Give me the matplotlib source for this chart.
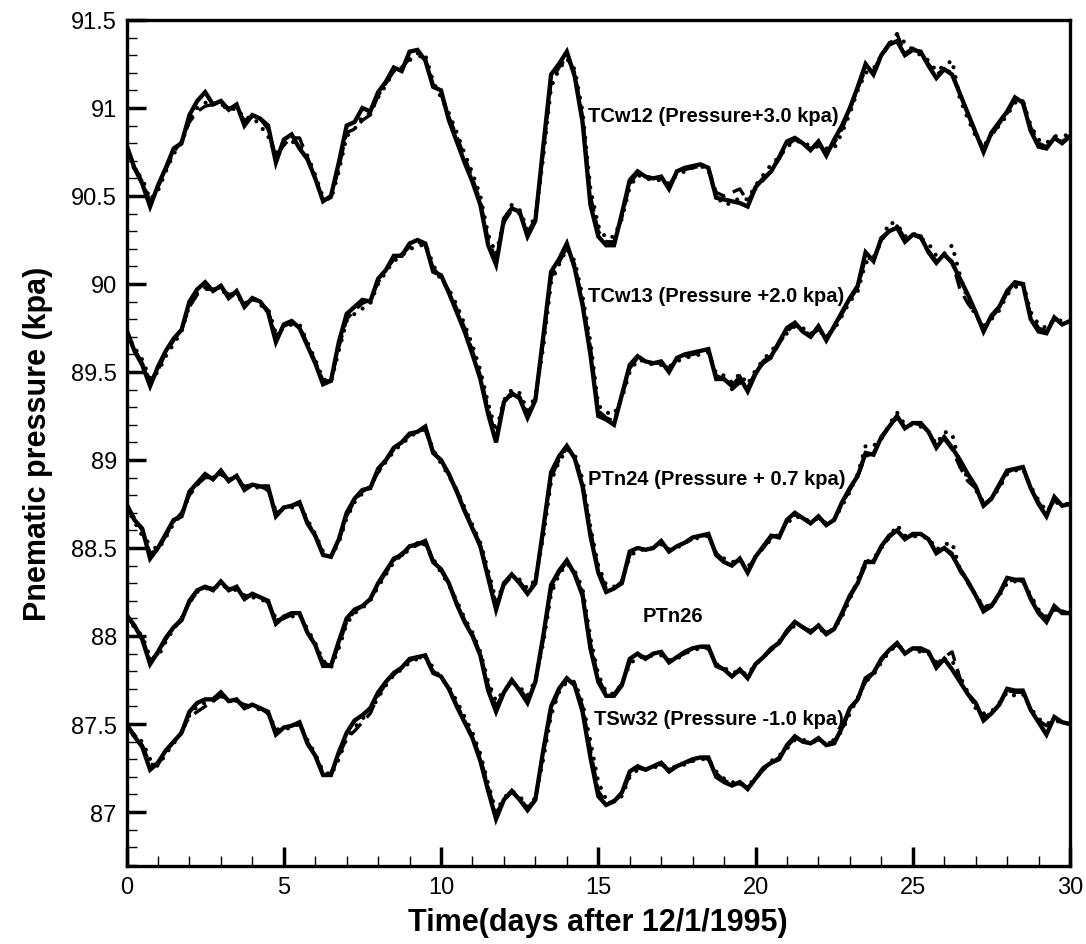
"""Pneumatic pressure at five borehole sensors, measured vs. two simulations,
December 1995 (30 days after 12/1/1995, 6-hour sampling)."""

import matplotlib

matplotlib.use("Agg")
matplotlib.rcParams.update({
    "font.family": ["Liberation Sans", "DejaVu Sans"],
    "font.size": 16,
})

import matplotlib.pyplot as plt
import numpy as np
from matplotlib.ticker import MultipleLocator, FormatStrFormatter

# time axis: 6-hour samples over 30 days
days = np.linspace(0, 30, 121)

# --- TCw12 (pressure + 3.0 kPa) ---------------------------------------------
tcw12_obs = [
    90.79, 90.66, 90.57, 90.44, 90.56, 90.66, 90.77, 90.80, 90.96, 91.04,
    91.09, 91.02, 91.04, 90.99, 91.02, 90.90, 90.96, 90.94, 90.90, 90.69,
    90.82, 90.85, 90.77, 90.71, 90.60, 90.47, 90.50, 90.69, 90.90, 90.92,
    91.00, 90.98, 91.09, 91.15, 91.23, 91.21, 91.32, 91.33, 91.27, 91.12,
    91.10, 90.93, 90.81, 90.69, 90.58, 90.45, 90.22, 90.11, 90.37, 90.43,
    90.41, 90.27, 90.36, 90.78, 91.19, 91.25, 91.32, 91.18, 90.92, 90.45,
    90.27, 90.22, 90.22, 90.40, 90.59, 90.64, 90.61, 90.60, 90.61, 90.54,
    90.64, 90.66, 90.67, 90.68, 90.66, 90.49, 90.48, 90.47, 90.46, 90.44,
    90.55, 90.60, 90.64, 90.72, 90.81, 90.83, 90.80, 90.76, 90.81, 90.73,
    90.82, 90.90, 91.00, 91.12, 91.25, 91.19, 91.30, 91.36, 91.38, 91.30,
    91.33, 91.32, 91.24, 91.17, 91.22, 91.19, 91.08, 90.97, 90.86, 90.75,
    90.86, 90.92, 90.98, 91.06, 91.03, 90.87, 90.78, 90.77, 90.83, 90.80,
    90.84]
tcw12_sim1 = [
    90.78, 90.67, 90.58, 90.47, 90.55, 90.65, 90.75, 90.81, 90.92, 90.98,
    91.01, 91.02, 91.02, 91.00, 90.99, 90.93, 90.95, 90.94, 90.88, 90.72,
    90.79, 90.83, 90.83, 90.72, 90.60, 90.48, 90.49, 90.66, 90.86, 90.88,
    90.93, 90.96, 91.07, 91.14, 91.21, 91.23, 91.28, 91.30, 91.28, 91.13,
    91.08, 90.95, 90.84, 90.72, 90.60, 90.47, 90.25, 90.14, 90.35, 90.42,
    90.40, 90.29, 90.37, 90.75, 91.15, 91.23, 91.29, 91.20, 90.95, 90.50,
    90.30, 90.24, 90.24, 90.38, 90.57, 90.63, 90.60, 90.60, 90.60, 90.56,
    90.63, 90.65, 90.66, 90.67, 90.66, 90.52, 90.50, 90.52, 90.54, 90.47,
    90.54, 90.59, 90.64, 90.71, 90.79, 90.82, 90.80, 90.77, 90.79, 90.75,
    90.80, 90.88, 90.99, 91.11, 91.22, 91.21, 91.30, 91.37, 91.42, 91.31,
    91.34, 91.31, 91.25, 91.19, 91.22, 91.20, 91.08, 90.97, 90.86, 90.77,
    90.84, 90.91, 90.97, 91.05, 91.04, 90.89, 90.80, 90.78, 90.82, 90.81,
    90.84]
tcw12_sim2 = [
    90.77, 90.65, 90.60, 90.48, 90.53, 90.64, 90.74, 90.80, 90.93, 91.00,
    91.03, 91.03, 91.02, 90.99, 91.00, 90.94, 90.95, 90.90, 90.84, 90.74,
    90.79, 90.81, 90.79, 90.73, 90.62, 90.49, 90.48, 90.64, 90.84, 90.88,
    90.95, 90.97, 91.06, 91.13, 91.21, 91.23, 91.27, 91.31, 91.30, 91.15,
    91.06, 90.97, 90.86, 90.74, 90.63, 90.50, 90.28, 90.17, 90.36, 90.45,
    90.42, 90.31, 90.38, 90.72, 91.12, 91.22, 91.28, 91.22, 90.98, 90.54,
    90.33, 90.26, 90.27, 90.37, 90.55, 90.62, 90.60, 90.59, 90.59, 90.57,
    90.62, 90.64, 90.66, 90.67, 90.65, 90.50, 90.45, 90.46, 90.49, 90.48,
    90.56, 90.62, 90.68, 90.72, 90.78, 90.81, 90.81, 90.78, 90.78, 90.77,
    90.77, 90.86, 90.97, 91.10, 91.20, 91.22, 91.30, 91.36, 91.42, 91.37,
    91.33, 91.30, 91.27, 91.21, 91.24, 91.27, 91.05, 90.94, 90.84, 90.78,
    90.85, 90.90, 90.96, 91.03, 91.04, 90.90, 90.82, 90.80, 90.84, 90.84,
    90.85]

# --- TCw13 (pressure + 2.0 kPa) ---------------------------------------------
tcw13_obs = [
    89.74, 89.62, 89.54, 89.42, 89.53, 89.62, 89.69, 89.74, 89.90, 89.97,
    90.01, 89.96, 89.99, 89.92, 89.96, 89.87, 89.92, 89.90, 89.84, 89.67,
    89.77, 89.79, 89.75, 89.65, 89.55, 89.43, 89.45, 89.67, 89.83, 89.87,
    89.91, 89.90, 90.03, 90.08, 90.16, 90.16, 90.23, 90.25, 90.23, 90.07,
    90.05, 89.95, 89.84, 89.73, 89.60, 89.46, 89.26, 89.10, 89.33, 89.38,
    89.35, 89.24, 89.34, 89.70, 90.07, 90.14, 90.23, 90.09, 89.88, 89.60,
    89.25, 89.23, 89.20, 89.37, 89.54, 89.59, 89.56, 89.55, 89.56, 89.50,
    89.58, 89.60, 89.61, 89.62, 89.63, 89.46, 89.46, 89.42, 89.47, 89.39,
    89.49, 89.56, 89.59, 89.67, 89.75, 89.78, 89.73, 89.70, 89.76, 89.68,
    89.76, 89.84, 89.92, 89.99, 90.18, 90.13, 90.26, 90.30, 90.32, 90.24,
    90.28, 90.27, 90.18, 90.12, 90.17, 90.12, 90.03, 89.94, 89.84, 89.73,
    89.82, 89.87, 89.96, 90.01, 90.00, 89.80, 89.73, 89.72, 89.81, 89.77,
    89.79]
tcw13_sim1 = [
    89.73, 89.63, 89.55, 89.45, 89.51, 89.61, 89.68, 89.74, 89.87, 89.94,
    89.97, 89.97, 89.98, 89.94, 89.95, 89.89, 89.91, 89.90, 89.85, 89.70,
    89.76, 89.78, 89.76, 89.66, 89.56, 89.45, 89.45, 89.64, 89.80, 89.85,
    89.89, 89.91, 90.01, 90.08, 90.14, 90.17, 90.21, 90.24, 90.22, 90.09,
    90.04, 89.96, 89.86, 89.75, 89.62, 89.48, 89.29, 89.13, 89.32, 89.37,
    89.36, 89.26, 89.35, 89.67, 90.04, 90.12, 90.21, 90.11, 89.90, 89.64,
    89.28, 89.24, 89.22, 89.36, 89.52, 89.58, 89.56, 89.55, 89.55, 89.52,
    89.57, 89.59, 89.60, 89.61, 89.62, 89.48, 89.46, 89.40, 89.44, 89.41,
    89.50, 89.55, 89.58, 89.66, 89.73, 89.77, 89.74, 89.71, 89.74, 89.70,
    89.75, 89.83, 89.91, 89.98, 90.15, 90.14, 90.25, 90.30, 90.33, 90.26,
    90.28, 90.26, 90.19, 90.13, 90.16, 90.13, 89.97, 89.89, 89.83, 89.75,
    89.81, 89.86, 89.95, 90.00, 90.00, 89.82, 89.75, 89.73, 89.80, 89.78,
    89.79]
tcw13_sim2 = [
    89.72, 89.64, 89.57, 89.46, 89.50, 89.59, 89.66, 89.73, 89.88, 89.95,
    89.98, 89.97, 89.97, 89.93, 89.94, 89.88, 89.92, 89.88, 89.86, 89.72,
    89.75, 89.77, 89.77, 89.67, 89.57, 89.46, 89.44, 89.62, 89.79, 89.83,
    89.86, 89.89, 90.00, 90.07, 90.13, 90.16, 90.20, 90.21, 90.23, 90.11,
    90.02, 89.97, 89.88, 89.77, 89.65, 89.51, 89.32, 89.16, 89.34, 89.40,
    89.38, 89.28, 89.36, 89.64, 90.01, 90.11, 90.20, 90.13, 89.93, 89.67,
    89.31, 89.27, 89.26, 89.35, 89.50, 89.57, 89.56, 89.54, 89.54, 89.53,
    89.56, 89.58, 89.59, 89.60, 89.61, 89.49, 89.48, 89.44, 89.49, 89.43,
    89.51, 89.57, 89.62, 89.67, 89.72, 89.76, 89.75, 89.72, 89.73, 89.71,
    89.74, 89.82, 89.90, 89.96, 90.12, 90.15, 90.24, 90.35, 90.34, 90.27,
    90.29, 90.26, 90.23, 90.16, 90.17, 90.22, 90.05, 89.91, 89.82, 89.76,
    89.80, 89.85, 89.94, 89.98, 90.01, 89.84, 89.77, 89.75, 89.80, 89.79,
    89.80]

# --- PTn24 (pressure + 0.7 kPa) ---------------------------------------------
ptn24_obs = [
    88.75, 88.66, 88.61, 88.44, 88.50, 88.58, 88.66, 88.68, 88.82, 88.87,
    88.92, 88.89, 88.94, 88.88, 88.91, 88.83, 88.86, 88.85, 88.85, 88.68,
    88.73, 88.74, 88.76, 88.64, 88.57, 88.46, 88.45, 88.55, 88.70, 88.78,
    88.83, 88.84, 88.95, 89.00, 89.07, 89.10, 89.15, 89.16, 89.19, 89.04,
    89.00, 88.92, 88.82, 88.71, 88.61, 88.51, 88.33, 88.15, 88.30, 88.35,
    88.30, 88.24, 88.30, 88.61, 88.93, 89.02, 89.08, 89.01, 88.85, 88.57,
    88.36, 88.25, 88.27, 88.30, 88.48, 88.50, 88.49, 88.50, 88.54, 88.48,
    88.51, 88.53, 88.56, 88.57, 88.58, 88.46, 88.42, 88.40, 88.44, 88.36,
    88.45, 88.51, 88.57, 88.56, 88.66, 88.70, 88.67, 88.64, 88.68, 88.63,
    88.66, 88.76, 88.84, 88.91, 89.04, 89.03, 89.13, 89.19, 89.25, 89.18,
    89.21, 89.21, 89.16, 89.07, 89.13, 89.07, 89.00, 88.92, 88.85, 88.74,
    88.78, 88.86, 88.94, 88.95, 88.96, 88.84, 88.75, 88.68, 88.79, 88.74,
    88.75]
ptn24_sim1 = [
    88.74, 88.67, 88.60, 88.47, 88.49, 88.57, 88.65, 88.70, 88.80, 88.86,
    88.90, 88.90, 88.92, 88.89, 88.89, 88.85, 88.86, 88.85, 88.83, 88.70,
    88.72, 88.74, 88.75, 88.65, 88.57, 88.47, 88.45, 88.54, 88.68, 88.77,
    88.82, 88.85, 88.93, 89.00, 89.06, 89.10, 89.14, 89.17, 89.17, 89.05,
    88.99, 88.92, 88.83, 88.72, 88.62, 88.52, 88.35, 88.18, 88.29, 88.34,
    88.31, 88.25, 88.31, 88.59, 88.90, 89.00, 89.07, 89.02, 88.87, 88.60,
    88.38, 88.27, 88.27, 88.31, 88.46, 88.50, 88.49, 88.50, 88.53, 88.49,
    88.51, 88.53, 88.55, 88.57, 88.57, 88.47, 88.43, 88.41, 88.43, 88.38,
    88.45, 88.50, 88.56, 88.57, 88.65, 88.69, 88.67, 88.65, 88.67, 88.64,
    88.66, 88.75, 88.83, 88.91, 89.02, 89.04, 89.12, 89.19, 89.24, 89.19,
    89.21, 89.20, 89.16, 89.08, 89.12, 89.06, 88.96, 88.88, 88.84, 88.75,
    88.78, 88.85, 88.93, 88.95, 88.95, 88.84, 88.76, 88.70, 88.77, 88.75,
    88.75]
ptn24_sim2 = [
    88.73, 88.65, 88.57, 88.52, 88.49, 88.56, 88.64, 88.69, 88.80, 88.86,
    88.91, 88.90, 88.92, 88.89, 88.90, 88.85, 88.85, 88.84, 88.83, 88.71,
    88.72, 88.73, 88.75, 88.66, 88.58, 88.48, 88.45, 88.53, 88.67, 88.76,
    88.81, 88.85, 88.93, 88.99, 89.05, 89.09, 89.13, 89.16, 89.18, 89.06,
    88.98, 88.91, 88.83, 88.73, 88.63, 88.53, 88.37, 88.20, 88.29, 88.35,
    88.32, 88.27, 88.32, 88.56, 88.88, 88.99, 89.06, 89.03, 88.89, 88.62,
    88.40, 88.29, 88.28, 88.31, 88.45, 88.49, 88.49, 88.50, 88.52, 88.49,
    88.50, 88.53, 88.55, 88.56, 88.57, 88.47, 88.44, 88.42, 88.43, 88.39,
    88.45, 88.50, 88.55, 88.58, 88.64, 88.68, 88.67, 88.65, 88.67, 88.64,
    88.66, 88.74, 88.82, 88.92, 89.08, 89.08, 89.12, 89.20, 89.27, 89.20,
    89.20, 89.19, 89.16, 89.09, 89.16, 89.15, 88.97, 88.90, 88.83, 88.76,
    88.78, 88.84, 88.92, 88.94, 88.95, 88.85, 88.77, 88.71, 88.76, 88.75,
    88.75]

# --- PTn26 (no offset) --------------------------------------------------------
ptn26_obs = [
    88.12, 88.06, 87.98, 87.84, 87.91, 87.99, 88.05, 88.09, 88.20, 88.26,
    88.28, 88.26, 88.31, 88.26, 88.28, 88.21, 88.24, 88.22, 88.20, 88.07,
    88.11, 88.13, 88.13, 88.02, 87.95, 87.83, 87.83, 87.97, 88.10, 88.15,
    88.17, 88.21, 88.30, 88.37, 88.44, 88.46, 88.51, 88.52, 88.54, 88.42,
    88.38, 88.30, 88.18, 88.08, 88.00, 87.89, 87.69, 87.57, 87.68, 87.75,
    87.69, 87.62, 87.74, 88.00, 88.29, 88.37, 88.43, 88.35, 88.23, 87.93,
    87.74, 87.66, 87.66, 87.72, 87.87, 87.90, 87.87, 87.90, 87.91, 87.85,
    87.88, 87.91, 87.93, 87.94, 87.94, 87.83, 87.81, 87.77, 87.81, 87.76,
    87.84, 87.88, 87.93, 87.96, 88.03, 88.08, 88.05, 88.02, 88.06, 88.01,
    88.04, 88.13, 88.23, 88.30, 88.42, 88.42, 88.51, 88.57, 88.60, 88.55,
    88.58, 88.58, 88.55, 88.47, 88.50, 88.46, 88.38, 88.31, 88.23, 88.14,
    88.17, 88.24, 88.33, 88.32, 88.32, 88.21, 88.13, 88.08, 88.17, 88.13,
    88.13]
ptn26_sim1 = [
    88.11, 88.06, 87.99, 87.86, 87.90, 87.98, 88.05, 88.10, 88.19, 88.25,
    88.28, 88.27, 88.29, 88.27, 88.27, 88.23, 88.23, 88.22, 88.19, 88.09,
    88.10, 88.12, 88.12, 88.03, 87.95, 87.85, 87.83, 87.95, 88.08, 88.14,
    88.17, 88.21, 88.29, 88.36, 88.43, 88.47, 88.50, 88.53, 88.52, 88.43,
    88.37, 88.30, 88.19, 88.09, 88.01, 87.90, 87.72, 87.60, 87.68, 87.74,
    87.70, 87.64, 87.74, 87.98, 88.26, 88.36, 88.42, 88.36, 88.25, 87.96,
    87.76, 87.67, 87.67, 87.73, 87.85, 87.89, 87.88, 87.89, 87.90, 87.86,
    87.88, 87.90, 87.93, 87.94, 87.93, 87.84, 87.81, 87.78, 87.80, 87.77,
    87.84, 87.88, 87.92, 87.97, 88.02, 88.07, 88.05, 88.03, 88.05, 88.02,
    88.04, 88.12, 88.22, 88.30, 88.40, 88.43, 88.50, 88.56, 88.60, 88.56,
    88.57, 88.57, 88.55, 88.48, 88.50, 88.47, 88.37, 88.30, 88.23, 88.16,
    88.18, 88.24, 88.31, 88.32, 88.31, 88.22, 88.14, 88.10, 88.15, 88.14,
    88.13]
ptn26_sim2 = [
    88.10, 88.05, 88.00, 87.88, 87.88, 87.97, 88.04, 88.10, 88.19, 88.25,
    88.27, 88.27, 88.29, 88.27, 88.26, 88.23, 88.22, 88.21, 88.19, 88.10,
    88.10, 88.11, 88.12, 88.04, 87.96, 87.86, 87.82, 87.93, 88.07, 88.13,
    88.16, 88.20, 88.28, 88.35, 88.42, 88.46, 88.49, 88.52, 88.52, 88.44,
    88.36, 88.29, 88.20, 88.10, 88.02, 87.91, 87.74, 87.63, 87.69, 87.74,
    87.71, 87.66, 87.75, 87.96, 88.24, 88.35, 88.41, 88.37, 88.27, 87.99,
    87.78, 87.68, 87.67, 87.73, 87.84, 87.88, 87.88, 87.89, 87.89, 87.86,
    87.87, 87.90, 87.92, 87.93, 87.93, 87.84, 87.82, 87.79, 87.80, 87.78,
    87.84, 87.88, 87.92, 87.97, 88.02, 88.06, 88.05, 88.03, 88.04, 88.02,
    88.04, 88.11, 88.21, 88.32, 88.42, 88.44, 88.50, 88.56, 88.63, 88.57,
    88.57, 88.56, 88.56, 88.49, 88.52, 88.53, 88.38, 88.31, 88.23, 88.17,
    88.17, 88.23, 88.30, 88.31, 88.31, 88.23, 88.15, 88.11, 88.15, 88.14,
    88.13]

# --- TSw32 (pressure - 1.0 kPa) ---------------------------------------------
tsw32_obs = [
    87.50, 87.43, 87.37, 87.24, 87.28, 87.35, 87.40, 87.45, 87.57, 87.62,
    87.64, 87.64, 87.68, 87.63, 87.64, 87.59, 87.61, 87.59, 87.57, 87.44,
    87.48, 87.49, 87.51, 87.39, 87.32, 87.21, 87.21, 87.34, 87.45, 87.52,
    87.55, 87.59, 87.68, 87.74, 87.79, 87.82, 87.87, 87.88, 87.89, 87.79,
    87.77, 87.70, 87.60, 87.51, 87.42, 87.29, 87.12, 86.96, 87.07, 87.12,
    87.07, 87.01, 87.07, 87.35, 87.60, 87.70, 87.76, 87.72, 87.57, 87.31,
    87.09, 87.04, 87.06, 87.11, 87.23, 87.26, 87.24, 87.26, 87.28, 87.23,
    87.26, 87.28, 87.30, 87.31, 87.31, 87.20, 87.17, 87.15, 87.17, 87.13,
    87.19, 87.25, 87.28, 87.30, 87.38, 87.43, 87.40, 87.39, 87.42, 87.38,
    87.39, 87.48, 87.59, 87.64, 87.76, 87.79, 87.87, 87.92, 87.96, 87.90,
    87.93, 87.93, 87.91, 87.82, 87.87, 87.81, 87.74, 87.67, 87.62, 87.52,
    87.56, 87.61, 87.70, 87.69, 87.69, 87.58, 87.51, 87.44, 87.54, 87.51,
    87.50]
tsw32_sim1 = [
    87.49, 87.44, 87.38, 87.27, 87.27, 87.34, 87.40, 87.46, 87.54, 87.57,
    87.60, 87.63, 87.66, 87.64, 87.63, 87.61, 87.60, 87.59, 87.56, 87.46,
    87.47, 87.49, 87.50, 87.40, 87.32, 87.22, 87.22, 87.32, 87.42, 87.46,
    87.51, 87.56, 87.66, 87.73, 87.78, 87.82, 87.86, 87.88, 87.87, 87.80,
    87.77, 87.70, 87.61, 87.52, 87.43, 87.31, 87.14, 86.99, 87.07, 87.11,
    87.08, 87.02, 87.08, 87.33, 87.57, 87.69, 87.75, 87.73, 87.60, 87.35,
    87.12, 87.05, 87.06, 87.10, 87.21, 87.25, 87.24, 87.26, 87.27, 87.24,
    87.26, 87.28, 87.29, 87.31, 87.30, 87.22, 87.18, 87.16, 87.16, 87.14,
    87.19, 87.24, 87.28, 87.31, 87.37, 87.42, 87.41, 87.39, 87.41, 87.39,
    87.40, 87.47, 87.58, 87.64, 87.74, 87.79, 87.86, 87.92, 87.95, 87.91,
    87.93, 87.92, 87.90, 87.84, 87.88, 87.91, 87.76, 87.67, 87.60, 87.54,
    87.56, 87.61, 87.69, 87.68, 87.68, 87.58, 87.52, 87.49, 87.52, 87.51,
    87.50]
tsw32_sim2 = [
    87.48, 87.43, 87.40, 87.30, 87.26, 87.33, 87.39, 87.45, 87.55, 87.60,
    87.62, 87.63, 87.66, 87.63, 87.63, 87.60, 87.60, 87.58, 87.56, 87.47,
    87.47, 87.48, 87.50, 87.41, 87.33, 87.23, 87.21, 87.30, 87.42, 87.48,
    87.53, 87.57, 87.65, 87.72, 87.78, 87.81, 87.85, 87.87, 87.88, 87.82,
    87.76, 87.71, 87.63, 87.54, 87.45, 87.33, 87.16, 87.00, 87.08, 87.12,
    87.09, 87.03, 87.08, 87.30, 87.55, 87.68, 87.74, 87.74, 87.62, 87.40,
    87.17, 87.07, 87.06, 87.09, 87.20, 87.24, 87.24, 87.25, 87.27, 87.25,
    87.26, 87.27, 87.29, 87.30, 87.30, 87.23, 87.19, 87.17, 87.16, 87.15,
    87.19, 87.24, 87.29, 87.32, 87.36, 87.41, 87.41, 87.40, 87.40, 87.39,
    87.41, 87.46, 87.56, 87.65, 87.74, 87.78, 87.85, 87.91, 87.95, 87.92,
    87.92, 87.91, 87.90, 87.85, 87.87, 87.86, 87.77, 87.68, 87.59, 87.56,
    87.57, 87.62, 87.68, 87.66, 87.67, 87.59, 87.53, 87.50, 87.52, 87.51,
    87.50]

# curve labels, anchored at text baseline-left
labels = ["TCw12 (Pressure+3.0 kpa)", "TCw13 (Pressure +2.0 kpa)",
          "PTn24 (Pressure + 0.7 kpa)", "PTn26", "TSw32 (Pressure -1.0 kpa)"]
label_x = [14.68, 14.68, 14.68, 16.42, 14.87]
label_y = [90.928, 89.905, 88.864, 88.083, 87.50]

series = [
    (tcw12_obs, tcw12_sim1, tcw12_sim2),
    (tcw13_obs, tcw13_sim1, tcw13_sim2),
    (ptn24_obs, ptn24_sim1, ptn24_sim2),
    (ptn26_obs, ptn26_sim1, ptn26_sim2),
    (tsw32_obs, tsw32_sim1, tsw32_sim2),
]

fig = plt.figure(figsize=(10.86, 9.45), dpi=100)
ax = fig.add_axes([0.1165, 0.0825, 0.8688, 0.8953])

for obs, sim1, sim2 in series:
    ax.plot(days, sim1, color="black", lw=2.4, ls=(0, (4.5, 2.5)), zorder=2)
    ax.plot(days, sim2, color="black", lw=3.0, ls=(0, (0.01, 2.4)),
            dash_capstyle="round", zorder=3)
    ax.plot(days, obs, color="black", lw=3.1, solid_joinstyle="miter",
            zorder=4)

for txt, x, y in zip(labels, label_x, label_y):
    ax.text(x, y, txt, fontsize=14.5, fontweight="bold", ha="left",
            va="baseline", zorder=5)

ax.set_xlim(0, 30)
ax.set_ylim(86.693, 91.5)
ax.xaxis.set_major_locator(MultipleLocator(5))
ax.xaxis.set_minor_locator(MultipleLocator(1))
ax.yaxis.set_major_locator(MultipleLocator(0.5))
ax.yaxis.set_minor_locator(MultipleLocator(0.1))
ax.yaxis.set_major_formatter(FormatStrFormatter("%g"))

ax.tick_params(which="both", direction="in", top=False, right=False)
ax.tick_params(which="major", length=14, width=2.5, labelsize=17, pad=7)
ax.tick_params(which="minor", length=7.5, width=1.0)
for sp in ax.spines.values():
    sp.set_linewidth(2.4)

ax.set_xlabel("Time(days after 12/1/1995)", fontsize=22, fontweight="bold",
              labelpad=7)
ax.set_ylabel("Pnematic pressure (kpa)", fontsize=22, fontweight="bold",
              labelpad=13)

fig.savefig("out.png", dpi=100)
